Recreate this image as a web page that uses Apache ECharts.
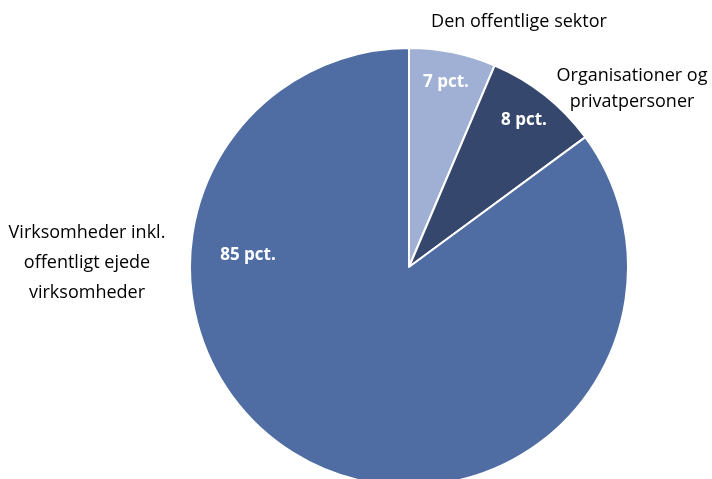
<!DOCTYPE html>
<html>
<head>
<meta charset="utf-8">
<script src="https://cdn.jsdelivr.net/npm/echarts@6/dist/echarts.min.js"></script>
<style>
  html, body { margin: 0; padding: 0; background: #fff; }
  #box { width: 712px; height: 479px; }
</style>
</head>
<body>
<div id="box"></div>
<script>
// sektorer med uret fra toppen
const names = ['Den offentlige sektor', 'Organisationer og\nprivatpersoner', 'Virksomheder inkl.\noffentligt ejede\nvirksomheder'];
// vinkler aflæst på figuren, etiketterne er de afrundede tal
const values = [6.4, 8.5, 85.1];
const pctLabels = ['7 pct.', '8 pct.', '85 pct.'];
const colors = ['#9fb0d4', '#35476c', '#4f6ca3'];

// hvor etiketterne står (centrum af teksten)
const namePos = [[519, 22], [632, 89], [87, 263]];
const nameLineHeight = [26, 26, 30];
const pctPos = [[446, 82], [524, 120], [248, 255]];

const font = '"Open Sans", "Noto Sans", sans-serif';

const chart = echarts.init(document.getElementById('box'));
chart.setOption({
  animation: false,
  series: [
    {
      type: 'pie',
      center: [409, 267],
      radius: 219,
      startAngle: 90,
      clockwise: true,
      silent: true,
      itemStyle: { borderColor: '#fff', borderWidth: 2 },
      label: {
        show: true,
        position: 'inside',
        formatter: (p) => pctLabels[p.dataIndex],
        color: '#fff',
        fontFamily: font,
        fontWeight: 'bold',
        fontSize: 17
      },
      labelLine: { show: false },
      labelLayout: (p) => ({ x: pctPos[p.dataIndex][0], y: pctPos[p.dataIndex][1], align: 'center', verticalAlign: 'middle' }),
      data: values.map((v, i) => ({ value: v, name: names[i], itemStyle: { color: colors[i] } }))
    },
    {
      type: 'pie',
      center: [409, 267],
      radius: 219,
      startAngle: 90,
      silent: true,
      z: 3,
      itemStyle: { color: 'rgba(0,0,0,0)' },
      label: {
        show: true,
        position: 'outside',
        overflow: 'none',
        formatter: '{b}',
        color: '#000',
        fontFamily: font,
        fontSize: 18
      },
      labelLine: { show: false },
      labelLayout: (p) => ({ x: namePos[p.dataIndex][0], y: namePos[p.dataIndex][1], align: 'center', verticalAlign: 'middle' }),
      data: values.map((v, i) => ({ value: v, name: names[i], label: { lineHeight: nameLineHeight[i] } }))
    }
  ]
});
</script>
</body>
</html>
